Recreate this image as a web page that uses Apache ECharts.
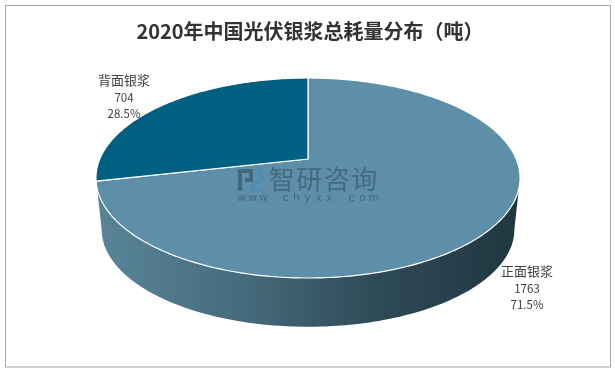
<!DOCTYPE html>
<html><head><meta charset="utf-8">
<style>html,body{margin:0;padding:0;background:#fff}#c{width:615px;height:372px}</style>
<script src="https://cdn.jsdelivr.net/npm/echarts@6/dist/echarts.min.js"></script>
</head><body><div id="c"></div>
<script>
const titleText = '2020年中国光伏银浆总耗量分布（吨）';
const categories = ['正面银浆', '背面银浆'];
const values = [1763, 704];
const sliceColors = ['#5F8FA8', '#006082'];
const labelCenters = [[527, 271], [124, 80]];
const watermarkName = '智研咨询';
const watermarkUrl = 'www.chyxx.com';

const total = values.reduce((a, b) => a + b, 0);
const TOP = {cx: 308, cy: 159, k: 208.2, h: 96.4};
const BOTTOM = {cx: 308, cy: 211, k: 202.6, h: 93.8};
const P = 0.19;

function rim(d, t) {
  const den = 1 + P * Math.cos(t);
  return [d.cx + d.k * Math.sin(t) / den, d.cy - d.h * Math.cos(t) / den];
}
function arc(d, a0, a1) {
  const pts = [], n = Math.max(2, Math.ceil(Math.abs(a1 - a0) * 60));
  for (let i = 0; i <= n; i++) pts.push(rim(d, a0 + (a1 - a0) * i / n));
  return pts;
}
const chart = echarts.init(document.getElementById('c'), null, {renderer: 'canvas'});
const tangent = Math.acos(-P);
const logoDark = 'rgba(45,80,100,0.62)', logoBlue = 'rgba(70,140,185,0.65)';
const wmColor = 'rgba(40,70,90,0.5)';

function spaced(text, x0, x1, y, font) {
  const chars = Array.from(text), step = (x1 - x0) / chars.length;
  return chars.map((ch, i) => ({
    type: 'text', z: 20,
    style: {x: x0 + step * (i + 0.5), y: y, text: ch, align: 'center', verticalAlign: 'middle', font: font, fill: wmColor}
  }));
}

chart.setOption({
  animation: false,
  backgroundColor: '#ffffff',
  title: {
    text: titleText, left: 305, top: 16, textAlign: 'center',
    textStyle: {fontFamily: '"Noto Sans CJK SC"', fontSize: 20, fontWeight: 'bold', color: '#333333'}
  },
  graphic: [
    {type: 'rect', silent: true, z: 0, shape: {x: 5.5, y: 5.5, width: 605, height: 361.5},
     style: {fill: 'none', stroke: '#a6a6a6', lineWidth: 1}}
  ].concat(
    spaced(watermarkName, 268, 378, 179.5, '26px "Noto Sans CJK SC"'),
    spaced(watermarkUrl, 236, 379, 198, '11px "DejaVu Sans"'),
    [
      {type: 'polyline', z: 20, shape: {points: [[240, 191], [240, 171], [251, 171], [251, 180], [245, 180]]},
        style: {fill: 'none', stroke: logoDark, lineWidth: 4}},
      {type: 'polyline', z: 20, shape: {points: [[255, 170], [261, 170], [261, 179], [252, 186], [252, 190], [262, 190]]},
        style: {fill: 'none', stroke: logoBlue, lineWidth: 3.5}}
    ]
  ),
  series: [
    {
      type: 'custom', coordinateSystem: 'none', silent: true, z: 1,
      data: [total],
      renderItem: function () {
        const pts = arc(TOP, tangent, 2 * Math.PI - tangent)
          .concat(arc(BOTTOM, 2 * Math.PI - tangent, tangent));
        return {
          type: 'polygon', shape: {points: pts},
          style: {fill: new echarts.graphic.LinearGradient(0, 0, 1, 0, [
            {offset: 0, color: '#5A8599'},
            {offset: 0.35, color: '#456B7C'},
            {offset: 0.65, color: '#2F4B58'},
            {offset: 1, color: '#20363F'}
          ]), stroke: null}
        };
      }
    },
    {
      type: 'custom', coordinateSystem: 'none', silent: true, z: 2,
      data: values.map((v, i) => [i, v]),
      renderItem: function (params, api) {
        const i = api.value(0), v = api.value(1);
        const before = values.slice(0, i).reduce((a, b) => a + b, 0);
        const a0 = before / total * 2 * Math.PI;
        const a1 = (before + v) / total * 2 * Math.PI;
        const pts = [[TOP.cx, TOP.cy]].concat(arc(TOP, a0, a1));
        const c = labelCenters[i];
        const txt = (s, y, size) => ({
          type: 'text', z2: 10,
          style: {x: c[0], y: y, text: s, align: 'center', verticalAlign: 'middle',
            font: size + 'px "Noto Sans CJK SC"', fill: '#404040'}
        });
        return {
          type: 'group',
          children: [
            {type: 'polygon', shape: {points: pts},
             style: {fill: sliceColors[i], stroke: '#ffffff', lineWidth: 1.2, lineJoin: 'round'}},
            txt(categories[i], c[1], 13),
            txt(String(v), c[1] + 17.5, 11.5),
            txt((v / total * 100).toFixed(1) + '%', c[1] + 33.5, 11.5)
          ]
        };
      }
    }
  ]
});
</script></body></html>
